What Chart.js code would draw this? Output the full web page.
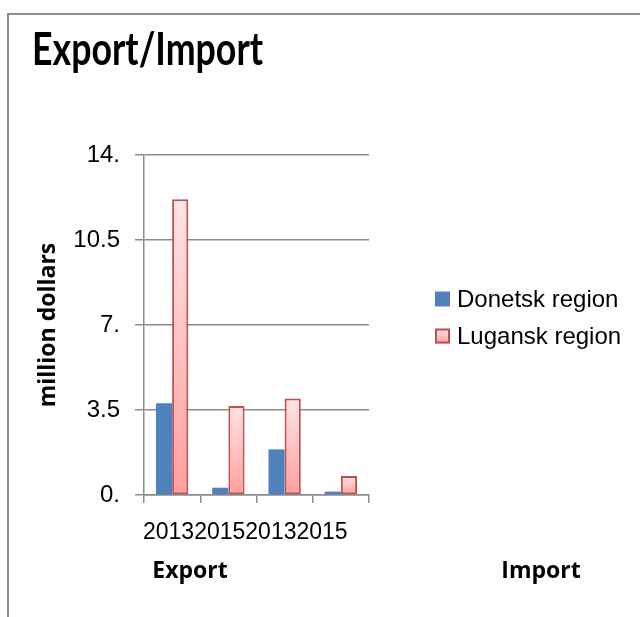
<!DOCTYPE html>
<html>
<head>
<meta charset="utf-8">
<script src="https://cdn.jsdelivr.net/npm/chart.js@4.4.1/dist/chart.umd.min.js"></script>
<style>
  html, body { margin: 0; padding: 0; background: #fff; }
  #wrap { width: 640px; height: 617px; }
</style>
</head>
<body>
<div id="wrap"><canvas id="myChart" width="640" height="617"></canvas></div>
<script>
const years = ['2013', '2015', '2013', '2015']
const groups = ['Export', 'Import']
const seriesNames = ['Donetsk region', 'Lugansk region']
const donetsk = [3.78, 0.30, 1.88, 0.14]
const lugansk = [12.18, 3.66, 3.97, 0.78]
const yTicks = [0, 3.5, 7, 10.5, 14]
const yTickLabels = ['0.', '3.5', '7.', '10.5', '14.']

const gray = '#8c8c8c'
const blue = '#4f81bd'
const redEdge = '#c0504d'

function pinkGradient(ctx, top, bottom) {
  const g = ctx.createLinearGradient(0, top, 0, bottom)
  g.addColorStop(0, '#ffe4e4')
  g.addColorStop(1, '#ff9e9e')
  return g
}

// each Lugansk bar gets its own top-to-bottom gradient
function luganskFill(c) {
  const y = c.chart.scales.y
  if (!y || c.raw == null) return '#ffc0c0'
  const top = y.getPixelForValue(c.raw)
  const bottom = y.getPixelForValue(0)
  if (!Number.isFinite(top) || !Number.isFinite(bottom) || top === bottom) return '#ffc0c0'
  return pinkGradient(c.chart.ctx, top, bottom)
}

const decor = {
  id: 'decor',
  beforeDraw(chart) {
    const ctx = chart.ctx
    ctx.save()
    ctx.strokeStyle = gray
    ctx.lineWidth = 2
    ctx.beginPath()
    ctx.moveTo(8, 617)
    ctx.lineTo(8, 14)
    ctx.lineTo(640, 14)
    ctx.stroke()
    ctx.restore()
  },
  afterDraw(chart) {
    const ctx = chart.ctx
    ctx.save()
    ctx.fillStyle = '#000'
    ctx.textBaseline = 'alphabetic'
    ctx.textAlign = 'left'

    // narrow heading
    ctx.font = 'bold 46px Lato'
    const title = 'Export/Import'
    const squeeze = 231 / ctx.measureText(title).width
    ctx.save()
    ctx.translate(32, 65)
    ctx.scale(squeeze, 1)
    ctx.fillText(title, 0, 0)
    ctx.restore()

    // year labels run together from the left end of the x axis
    const xs = chart.scales.x
    ctx.font = '23px "Liberation Sans"'
    let lx = xs.left - 1
    xs.getLabels().forEach((lab) => {
      ctx.fillText(lab, lx, 539)
      lx += ctx.measureText(lab).width
    })

    // legend
    ctx.font = '24px "Liberation Sans"'
    ctx.textBaseline = 'middle'
    const rows = [299, 336]
    seriesNames.forEach((name, i) => {
      const y = rows[i]
      if (i === 0) {
        ctx.fillStyle = blue
        ctx.fillRect(435, y - 7.5, 15, 15)
      } else {
        ctx.fillStyle = pinkGradient(ctx, y - 7.5, y + 7.5)
        ctx.fillRect(435, y - 7.5, 15, 15)
        ctx.strokeStyle = redEdge
        ctx.lineWidth = 2
        ctx.strokeRect(436, y - 6.5, 13, 13)
      }
      ctx.fillStyle = '#000'
      ctx.fillText(name, 457, y + 1)
    })

    // group captions under the years
    ctx.font = 'bold 23px "Open Sans"'
    ctx.textAlign = 'center'
    ctx.textBaseline = 'alphabetic'
    ctx.fillText(groups[0], 190, 578)
    ctx.fillText(groups[1], 541, 578)
    ctx.restore()
  }
}

const ctx = document.getElementById('myChart').getContext('2d')
const myChart = new Chart(ctx, {
  type: 'bar',
  data: {
    labels: years,
    datasets: [
      {
        label: seriesNames[0],
        data: donetsk,
        backgroundColor: blue,
        borderWidth: 0,
      },
      {
        label: seriesNames[1],
        data: lugansk,
        backgroundColor: luganskFill,
        borderColor: redEdge,
        borderWidth: 2,
        borderSkipped: false,
      },
    ],
  },
  options: {
    responsive: false,
    animation: false,
    devicePixelRatio: 1,
    layout: { padding: { top: 155, left: 0, right: 271, bottom: 72 } },
    datasets: { bar: { categoryPercentage: 0.575, barPercentage: 1 } },
    plugins: { legend: { display: false }, tooltip: { enabled: false } },
    scales: {
      x: {
        grid: { drawOnChartArea: false, tickLength: 8, color: gray, lineWidth: 1.5, offset: true },
        border: { color: gray, width: 1.5 },
        ticks: { display: false, autoSkip: false },
        afterFit: (s) => { s.height = 50 },
      },
      y: {
        min: 0,
        max: 14,
        afterBuildTicks: (s) => { s.ticks = yTicks.map((v) => ({ value: v })) },
        grid: { color: gray, lineWidth: 1.5, tickLength: 9 },
        border: { color: gray, width: 1.5 },
        ticks: {
          color: '#000',
          font: { family: 'Liberation Sans', size: 24 },
          padding: 15,
          callback: (v) => yTickLabels[yTicks.indexOf(v)],
        },
        title: {
          display: true,
          text: 'million dollars',
          color: '#000',
          font: { family: 'Open Sans', size: 23, weight: 'bold' },
          padding: { top: 35, bottom: 0 },
        },
        afterFit: (s) => { s.width = 144 },
      },
    },
  },
  plugins: [decor],
})
</script>
</body>
</html>
